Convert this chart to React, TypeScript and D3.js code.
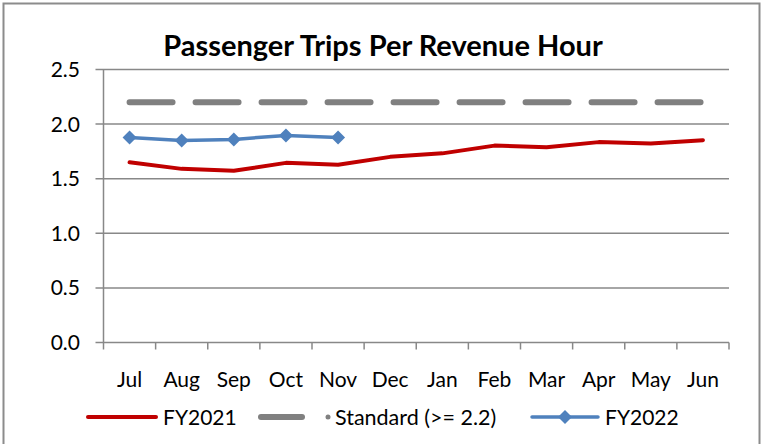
import React from 'react';
import * as d3 from 'd3';

const months = ['Jul', 'Aug', 'Sep', 'Oct', 'Nov', 'Dec', 'Jan', 'Feb', 'Mar', 'Apr', 'May', 'Jun'];
const fy2021 = [1.65, 1.59, 1.572, 1.645, 1.627, 1.70, 1.732, 1.803, 1.788, 1.835, 1.823, 1.853];
const fy2022 = [1.878, 1.85, 1.86, 1.896, 1.878];
const standardValue = 2.2;
const standard = months.map(() => standardValue);
const yTicks = [0, 0.5, 1.0, 1.5, 2.0, 2.5];
const title = 'Passenger Trips Per Revenue Hour';
const legendLabels = ['FY2021', 'Standard (>= 2.2)', 'FY2022'];

const W = 764;
const H = 444;
const FONT = 'Lato, "Open Sans", sans-serif';
const RED = '#C00000';
const BLUE = '#4F81BD';
const GREY = '#808080';
const AXIS = '#888888';

export default function App() {
  const plotL = 103.5, plotR = 729, plotT = 69.5, plotB = 342.5;
  const x = d3.scaleBand<string>().domain(months).range([plotL, plotR]).padding(0);
  const y = d3.scaleLinear().domain([0, 2.5]).range([plotB, plotT]);
  const cx = (m: string) => (x(m) as number) + x.bandwidth() / 2;

  const line = d3.line<number>()
    .x((_, i) => cx(months[i]))
    .y((d) => y(d));

  const diamond = (px: number, py: number, r = 7) =>
    `M${px},${py - r}L${px + r},${py}L${px},${py + r}L${px - r},${py}Z`;

  const boundaries = months.map((m) => x(m) as number).concat([plotR]);
  const legendY = 417;

  return (
    <svg width={W} height={H} style={{ position: 'absolute', left: 0, top: 0, background: '#fff' }}
      fontFamily={FONT}>
      <rect x={3.5} y={3.5} width={756} height={470} fill="#fff" stroke="#8c8c8c" strokeWidth={2} />
      <text x={383} y={56} textAnchor="middle" fontSize={29} fontWeight="bold" fill="#000">{title}</text>

      {/* gridlines */}
      {yTicks.map((t) => (
        <line key={'g' + t} x1={plotL - 8} x2={plotR} y1={y(t)} y2={y(t)} stroke={AXIS} strokeWidth={1.5} />
      ))}
      {/* y axis */}
      <line x1={plotL} x2={plotL} y1={plotT} y2={plotB} stroke={AXIS} strokeWidth={1.5} />
      {yTicks.map((t) => (
        <text key={'yl' + t} x={80} y={y(t)} dy="0.36em" textAnchor="end" fontSize={21} fill="#000">
          {t.toFixed(1)}
        </text>
      ))}
      {/* x ticks */}
      {boundaries.map((b, i) => (
        <line key={'xt' + i} x1={b} x2={b} y1={plotB} y2={plotB + 7} stroke={AXIS} strokeWidth={1.5} />
      ))}
      {months.map((m) => (
        <text key={'xl' + m} x={cx(m)} y={387} textAnchor="middle" fontSize={21} fill="#000">{m}</text>
      ))}

      {/* standard */}
      <path d={line(standard) || ''} fill="none" stroke={GREY} strokeWidth={6} strokeDasharray="43 23"
        strokeLinecap="round" />
      {/* FY2021 */}
      <path d={line(fy2021) || ''} fill="none" stroke={RED} strokeWidth={4} strokeLinejoin="round"
        strokeLinecap="round" />
      {/* FY2022 */}
      <path d={line(fy2022) || ''} fill="none" stroke={BLUE} strokeWidth={3.5} strokeLinejoin="round" />
      {fy2022.map((v, i) => (
        <path key={'d' + i} d={diamond(cx(months[i]), y(v))} fill={BLUE} />
      ))}

      {/* legend */}
      <line x1={88} x2={156} y1={legendY} y2={legendY} stroke={RED} strokeWidth={4} strokeLinecap="round" />
      <text x={163} y={legendY} dy="0.36em" fontSize={21} fill="#000">{legendLabels[0]}</text>
      <line x1={261} x2={302} y1={legendY} y2={legendY} stroke={GREY} strokeWidth={6} strokeLinecap="round" />
      <circle cx={328} cy={legendY} r={2.5} fill={GREY} />
      <text x={335} y={legendY} dy="0.36em" fontSize={21.5} fill="#000">{legendLabels[1]}</text>
      <line x1={532} x2={598} y1={legendY} y2={legendY} stroke={BLUE} strokeWidth={3.5} strokeLinecap="round" />
      <path d={diamond(565, legendY)} fill={BLUE} />
      <text x={605} y={legendY} dy="0.36em" fontSize={21} fill="#000">{legendLabels[2]}</text>
    </svg>
  );
}
